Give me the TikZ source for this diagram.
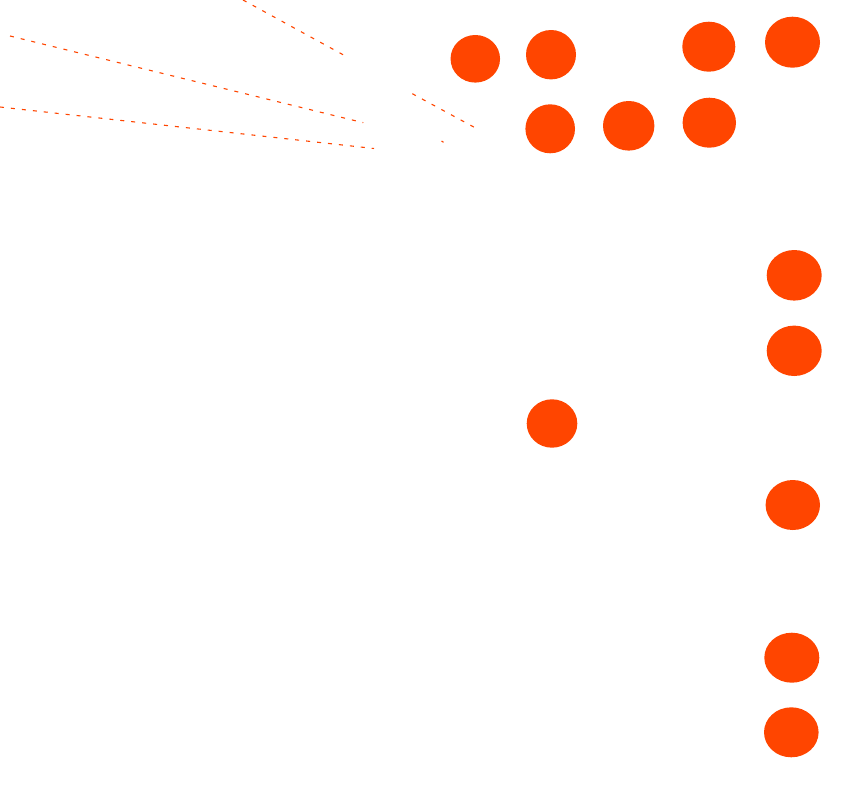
\documentclass[tikz,border=0pt]{standalone}
\usetikzlibrary{shapes.geometric}
\definecolor{dotred}{HTML}{FF4500}
\tikzset{
  dotnode/.style={ellipse, fill=dotred, draw=none, inner sep=0pt},
  ray/.style={draw=dotred, line width=1.1pt, dash pattern=on 4pt off 7pt},
}
\begin{document}
\begin{tikzpicture}[x=1pt,y=-1pt]
\useasboundingbox (0,0) rectangle (848,787);
\clip (0,0) rectangle (848,787);
% top cluster
\node[dotnode, minimum width=49.5pt, minimum height=47.6pt] (c1) at (475.3,58.8) {};
\node[dotnode, minimum width=50pt, minimum height=49.4pt] (c2) at (551,54.7) {};
\node[dotnode, minimum width=53pt, minimum height=50pt] (c3) at (708.8,46.7) {};
\node[dotnode, minimum width=55pt, minimum height=51pt] (c4) at (792.5,42.2) {};
\node[dotnode, minimum width=49.6pt, minimum height=49pt] (c5) at (550.2,128.8) {};
\node[dotnode, minimum width=51.4pt, minimum height=49.6pt] (c6) at (628.7,125.8) {};
\node[dotnode, minimum width=53.4pt, minimum height=50pt] (c7) at (709.3,122.7) {};
% right column
\node[dotnode, minimum width=55pt, minimum height=50.6pt] (c8) at (794.2,275.3) {};
\node[dotnode, minimum width=55pt, minimum height=50.4pt] (c9) at (794.2,350.8) {};
\node[dotnode, minimum width=54.4pt, minimum height=50pt] (c10) at (792.8,505) {};
\node[dotnode, minimum width=55pt, minimum height=50pt] (c11) at (791.8,657.7) {};
\node[dotnode, minimum width=54.6pt, minimum height=50pt] (c12) at (791.3,732.3) {};
% middle
\node[dotnode, minimum width=50.6pt, minimum height=48.4pt] (c13) at (552,423.5) {};
% dashed rays
\coordinate (a1) at (243,0);
\coordinate (a2) at (346.7,56.7);
\coordinate (b1) at (10,36);
\coordinate (b2) at (363.3,122.7);
\coordinate (d1) at (0,107);
\coordinate (d2) at (374,148.5);
\coordinate (e1) at (412.3,93.7);
\coordinate (e2) at (475,127.7);
\coordinate (f1) at (441.5,141);
\coordinate (f2) at (443.5,142.3);
\draw[ray] (a1) -- (a2);
\draw[ray] (b1) -- (b2);
\draw[ray] (d1) -- (d2);
\draw[ray] (e1) -- (e2);
\draw[draw=dotred, line width=1.1pt] (f1) -- (f2);
\end{tikzpicture}
\end{document}
